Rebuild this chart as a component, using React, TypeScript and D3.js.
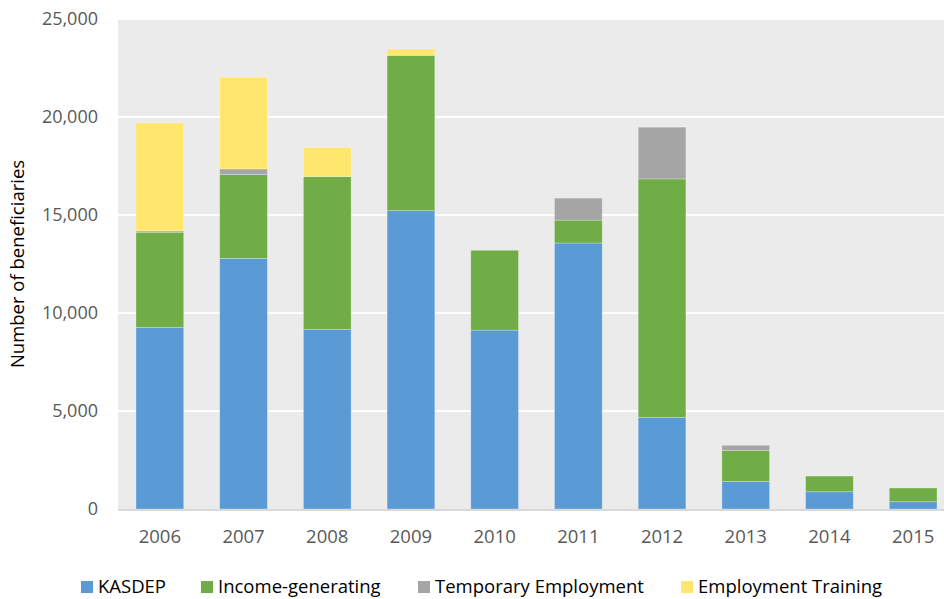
import React from "react";
import * as d3 from "d3";

const years = ["2006", "2007", "2008", "2009", "2010", "2011", "2012", "2013", "2014", "2015"];
const kasdep = [9270, 12790, 9170, 15220, 9130, 13570, 4680, 1410, 880, 370];
const incomeGenerating = [4850, 4270, 7790, 7910, 4070, 1170, 12160, 1580, 800, 700];
const temporaryEmployment = [70, 290, 0, 30, 0, 1120, 2640, 260, 0, 0];
const employmentTraining = [5510, 4680, 1480, 310, 0, 0, 0, 0, 0, 0];
const seriesNames = ["KASDEP", "Income-generating", "Temporary Employment", "Employment Training"];
const seriesColors = ["#5b9bd5", "#70ad47", "#a5a5a5", "#ffe76d"];
const yTicks = [0, 5000, 10000, 15000, 20000, 25000];

const W = 944;
const H = 599;
const left = 118;
const right = 955;
const top = 19;
const bottom = 509;
const font = "'Open Sans', Lato, sans-serif";

export default function App() {
  const rows = years.map((y, i) => ({
    year: y,
    s0: kasdep[i],
    s1: incomeGenerating[i],
    s2: temporaryEmployment[i],
    s3: employmentTraining[i],
  }));
  const stack = d3.stack<any>().keys(["s0", "s1", "s2", "s3"])(rows);
  const x = d3.scaleBand().domain(years).range([left, right]).paddingInner(0.43).paddingOuter(0.215);
  const y = d3.scaleLinear().domain([0, 25000]).range([bottom, top]);
  const fmt = d3.format(",");
  const legendX = [81, 201, 418, 681];

  return (
    <svg width={W} height={H} style={{ position: "absolute", left: 0, top: 0, background: "#fff" }}>
      <rect x={left} y={top} width={right - left} height={bottom - top} fill="#ebebeb" />
      {yTicks.slice(1).map((t) => (
        <line key={t} x1={left} x2={right} y1={y(t)} y2={y(t)} stroke="#fff" strokeWidth={2} />
      ))}
      {stack.map((layer, si) =>
        layer.map((d, i) =>
          d[1] - d[0] > 0 ? (
            <rect
              key={si + "-" + i}
              x={x(years[i])!}
              y={y(d[1])}
              width={x.bandwidth()}
              height={y(d[0]) - y(d[1])}
              fill={seriesColors[si]}
              stroke="#ffffff"
              strokeOpacity={0.35}
              strokeWidth={0.75}
            />
          ) : null
        )
      )}
      <line x1={left} x2={right} y1={bottom + 1} y2={bottom + 1} stroke="#d9d9d9" strokeWidth={2} />
      {yTicks.map((t) => (
        <text key={t} x={98} y={y(t)} dy="0.35em" textAnchor="end" fontFamily={font} fontSize={18} fill="#595959">
          {fmt(t)}
        </text>
      ))}
      {years.map((yr) => (
        <text key={yr} x={x(yr)! + x.bandwidth() / 2} y={537} dy="0.35em" textAnchor="middle" fontFamily={font} fontSize={18.5} fill="#595959">
          {yr}
        </text>
      ))}
      <text transform="translate(18,264) rotate(-90)" textAnchor="middle" dy="0.35em" fontFamily={font} fontSize={18.5} fill="#000">
        Number of beneficiaries
      </text>
      {seriesNames.map((n, i) => (
        <g key={n}>
          <rect x={legendX[i]} y={581} width={12} height={12} fill={seriesColors[i]} />
          <text x={legendX[i] + 17} y={587} dy="0.35em" fontFamily={font} fontSize={18.5} fill="#000">
            {n}
          </text>
        </g>
      ))}
    </svg>
  );
}
